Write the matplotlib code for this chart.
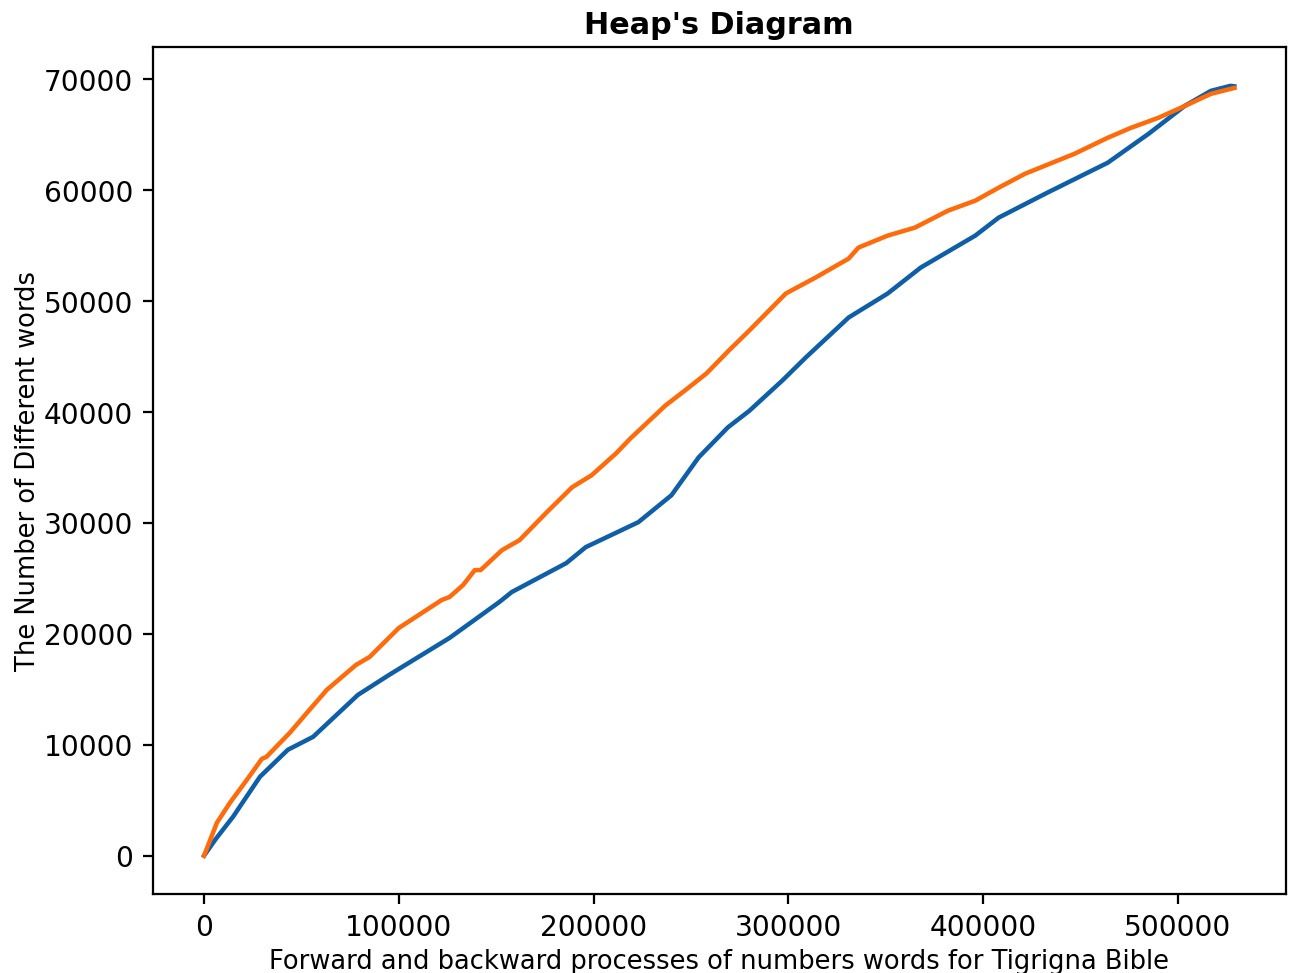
import matplotlib
matplotlib.use("Agg")
import matplotlib.pyplot as plt

# forward pass (blue)
fwd_x = [0, 6000, 14900, 28700, 43000, 56000, 79000, 95000, 126000, 151600,
         158000, 186000, 196000, 223000, 240000, 254000, 269000, 280000, 297000,
         309000, 331000, 351000, 368000, 396000, 408000, 425000, 433000, 464000,
         485000, 503600, 517000, 527000, 529000]
fwd_y = [0, 1500, 3510, 7110, 9540, 10710, 14490, 16290, 19620, 22860,
         23760, 26370, 27810, 30060, 32490, 35910, 38610, 40100, 42840,
         44910, 48510, 50670, 53010, 55890, 57510, 59040, 59760, 62460,
         65070, 67590, 68940, 69390, 69350]

# backward pass (orange)
bwd_x = [0, 6600, 13300, 22000, 29700, 32000, 44000, 52800, 63000, 78000, 85000,
         100000, 122000, 126000, 133000, 139000, 142000, 153000, 162000, 176000,
         189000, 199000, 211600, 219000, 237000, 247000, 258000, 269500, 280000,
         298700, 314000, 331000, 336000, 351000, 365000, 382000, 396000, 408000,
         421600, 447000, 464000, 476000, 490000, 501500, 517000, 529000]
bwd_y = [0, 2970, 4770, 6840, 8730, 8900, 11070, 12870, 14940, 17190, 17910,
         20520, 23040, 23310, 24390, 25740, 25740, 27540, 28440, 30960,
         33210, 34290, 36270, 37620, 40590, 41940, 43470, 45540, 47340,
         50670, 52110, 53820, 54810, 55890, 56610, 58140, 59040, 60210,
         61470, 63270, 64710, 65610, 66510, 67410, 68670, 69200]

fig, ax = plt.subplots(figsize=(6.4, 4.82), dpi=202)
fig.subplots_adjust(left=0.118, right=0.9946, top=0.9507, bottom=0.081)

ax.plot(fwd_x, fwd_y, color="#0f5fa8", linewidth=1.6)
ax.plot(bwd_x, bwd_y, color="#ff6a0a", linewidth=1.6)

ax.set_title("Heap's Diagram", fontweight="bold", fontsize=10.8, pad=5)
ax.set_xlabel("Forward and backward processes of numbers words for Tigrigna Bible",
              fontsize=9.2, labelpad=2.5)
ax.set_ylabel("The Number of Different words", fontsize=9.2, labelpad=1)
ax.set_xticks([0, 100000, 200000, 300000, 400000, 500000])
ax.set_yticks([0, 10000, 20000, 30000, 40000, 50000, 60000, 70000])

fig.savefig("out.png")
